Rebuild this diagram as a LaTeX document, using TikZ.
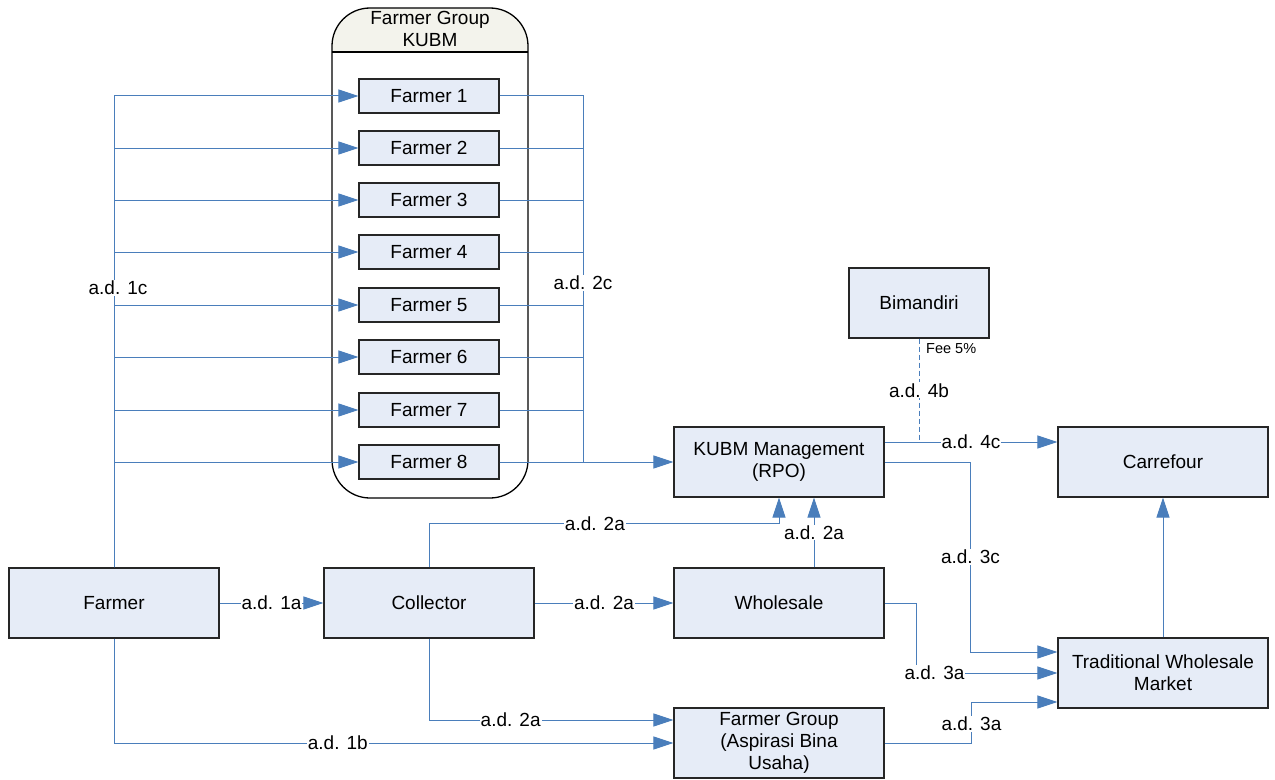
\documentclass[tikz,border=0pt]{standalone}
\usepackage{fontspec}
\setmainfont{Liberation Sans}
\usetikzlibrary{arrows.meta,calc}
\definecolor{lineblue}{HTML}{4A7EBB}
\definecolor{boxfill}{HTML}{E6ECF7}
\definecolor{boxdraw}{HTML}{262626}
\definecolor{headfill}{HTML}{F3F3EC}
\begin{document}
\begin{tikzpicture}[x=1bp,y=-1bp,
  font=\fontsize{19bp}{22bp}\selectfont,
  box/.style={draw=boxdraw, fill=boxfill, line width=1.1bp, minimum width=210bp, minimum height=70bp, inner sep=0pt, align=center},
  fbox/.style={box, minimum width=140bp, minimum height=34bp},
  conn/.style={draw=lineblue, line width=1bp},
  arr/.style={conn, -{Triangle[length=20bp,width=13bp]}},
  lbl/.style={fill=white, inner sep=1bp, text=black}]
\useasboundingbox (0,0) rectangle (1275,780);

% group container
\fill[headfill] (332,52) [rounded corners=38bp] -- (332,8) -- (528,8) [sharp corners] -- (528,52) -- cycle;
\draw[line width=1.3bp, rounded corners=38bp] (332,8) rectangle (528,498);
\draw[line width=1.3bp] (332,52) -- (528,52);
\node[align=center, inner sep=0pt] (grouptitle) at (430,29) {Farmer Group\\KUBM};

% farmer boxes
\node[fbox] (f1) at (429,96) {Farmer 1};
\node[fbox] (f2) at (429,148) {Farmer 2};
\node[fbox] (f3) at (429,200) {Farmer 3};
\node[fbox] (f4) at (429,252) {Farmer 4};
\node[fbox] (f5) at (429,305) {Farmer 5};
\node[fbox] (f6) at (429,357) {Farmer 6};
\node[fbox] (f7) at (429,410) {Farmer 7};
\node[fbox] (f8) at (429,462) {Farmer 8};

% main boxes
\node[box] (farmer) at (114,603) {Farmer};
\node[box] (collector) at (429,603) {Collector};
\node[box] (wholesale) at (779,603) {Wholesale};
\node[box] (kubm) at (779,462) {KUBM Management\\(RPO)};
\node[box] (fgroup) at (779,743) {Farmer Group\\(Aspirasi Bina\\Usaha)};
\node[box, minimum width=140bp] (bimandiri) at (919,303) {Bimandiri};
\node[box] (carrefour) at (1163,462) {Carrefour};
\node[box] (twm) at (1163,673) {Traditional Wholesale\\Market};

% farmer -> farmer i
\foreach \i in {1,...,8} {
  \draw[arr] (farmer.north) |- (f\i.west);
}
\node[lbl] (l1c) at (118,288) {a.d. 1c};

% farmer i -> kubm
\coordinate (j2) at (583,462);
\foreach \i in {1,...,7} {
  \draw[conn] (f\i.east) -| (j2);
}
\draw[arr] (f8.east) -- (kubm.west);
\node[lbl] (l2c) at (583,283) {a.d. 2c};

% farmer -> collector, farmer group
\draw[arr] (farmer) -- node[lbl] (l1a) {a.d. 1a} (collector);
\draw[arr] (farmer.south) |- node[lbl, pos=0.70] (l1b) {a.d. 1b} (fgroup.west);

% collector connections
\draw[arr] (collector) -- node[lbl] (l2a1) {a.d. 2a} (wholesale);
\draw[arr] (collector.north) -- ++(0,-44) -| node[lbl, pos=0.237] (l2a2) {a.d. 2a} (kubm.south);
\draw[arr] ($(wholesale.north)+(35,0)$) -- node[lbl] (l2a3) {a.d. 2a} ($(kubm.south)+(35,0)$);
\draw[arr] (collector.south) |- node[lbl, pos=0.667] (l2a4) {a.d. 2a} ($(fgroup.west)+(0,-23)$);

% kubm -> carrefour, bimandiri
\draw[arr] ($(kubm.east)+(0,-20)$) -- node[lbl] (l4c) {a.d. 4c} ($(carrefour.west)+(0,-20)$);
\coordinate (j4) at ($(bimandiri.south |- kubm.east)+(0,-20)$);
\draw[conn, dashed, dash pattern=on 5bp off 3bp] (bimandiri.south) -- node[lbl, pos=0.5] (l4b) {a.d. 4b} (j4);
\node[anchor=west, inner sep=0pt, font=\fontsize{14.5bp}{17bp}\selectfont] (fee) at (926,349) {Fee 5\%};

% into traditional wholesale market
\draw[arr] (kubm.east) -| node[lbl, pos=0.75] (l3c) {a.d. 3c} ($(twm.west)+(-87,-21)$) -- ($(twm.west)+(0,-21)$);
\draw[arr] (wholesale.east) -| ($(twm.west)+(-141,0)$) -- node[lbl, pos=0.128] (l3a1) {a.d. 3a} (twm.west);
\draw[arr] (fgroup.east) -| node[lbl, pos=0.73] (l3a2) {a.d. 3a} ($(twm.west)+(-86,29)$) -- ($(twm.west)+(0,29)$);
\draw[arr] (twm) -- (carrefour);
\end{tikzpicture}
\end{document}
